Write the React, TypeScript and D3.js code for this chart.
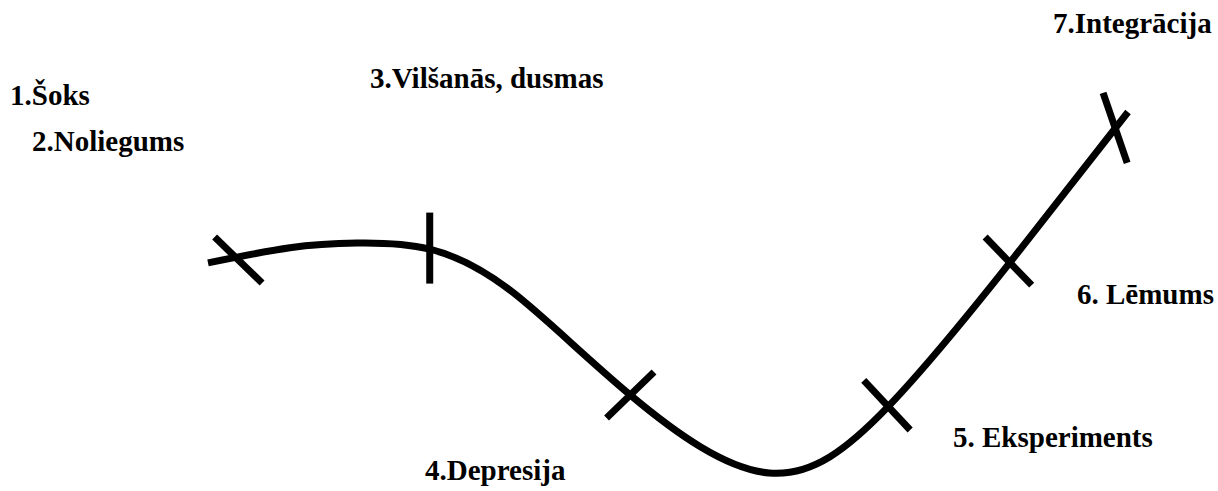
import * as d3 from 'd3';

// curve of the change process: progress (0-100) vs mood level (0-100)
const curveX = [0, 8.9, 16.2, 24.1, 33.2, 45.9, 61.0, 73.9, 87.2, 100];
const curveY = [58.2, 62.4, 63.7, 62.0, 49.9, 21.6, 0, 18.3, 58.4, 100];

// cross marks on the curve (stage boundaries)
const markX = [3.3, 24.1, 45.9, 73.8, 87.0, 98.6];
const markY = [59.0, 62.3, 21.6, 18.8, 58.7, 95.6];

const stageLabels = [
  '1.Šoks',
  '2.Noliegums',
  '3.Vilšanās, dusmas',
  '4.Depresija',
  '5. Eksperiments',
  '6. Lēmums',
  '7.Integrācija'
];

const WIDTH = 1218;
const HEIGHT = 491;
const STROKE = 7;

// tick direction (deg) and length for each mark
const MARK_ANGLE = [44, 90, -44, 47, 46, 71];
const MARK_LEN = [66, 71, 66, 68, 67, 74];

// label anchors (left x, baseline y) in page pixels
const LABEL_POS: [number, number][] = [
  [10, 105],
  [32, 151],
  [370, 88],
  [425, 480],
  [953, 447],
  [1077, 304],
  [1053, 33]
];

export default function App() {
  const x = d3.scaleLinear().domain([0, 100]).range([208, 1128]);
  const y = d3.scaleLinear().domain([0, 100]).range([473, 112]);

  const pts = curveX.map((v, i) => [v, curveY[i]] as [number, number]);
  const line = d3.line<[number, number]>()
    .x(d => x(d[0]))
    .y(d => y(d[1]))
    .curve(d3.curveNatural);

  return (
    <svg
      width={WIDTH}
      height={HEIGHT}
      style={{ position: 'absolute', left: 0, top: 0, background: '#fff' }}
    >
      <path d={line(pts) || ''} fill="none" stroke="#000" strokeWidth={STROKE} />
      {markX.map((mx, i) => {
        const cx = x(mx);
        const cy = y(markY[i]);
        const a = (MARK_ANGLE[i] * Math.PI) / 180;
        const h = MARK_LEN[i] / 2;
        return (
          <line
            key={i}
            x1={cx - Math.cos(a) * h}
            y1={cy - Math.sin(a) * h}
            x2={cx + Math.cos(a) * h}
            y2={cy + Math.sin(a) * h}
            stroke="#000"
            strokeWidth={STROKE}
          />
        );
      })}
      {stageLabels.map((t, i) => (
        <text
          key={t}
          x={LABEL_POS[i][0]}
          y={LABEL_POS[i][1]}
          fontFamily="'Liberation Serif', 'Times New Roman', serif"
          fontWeight="bold"
          fontSize={29}
          fill="#000"
        >
          {t}
        </text>
      ))}
    </svg>
  );
}
